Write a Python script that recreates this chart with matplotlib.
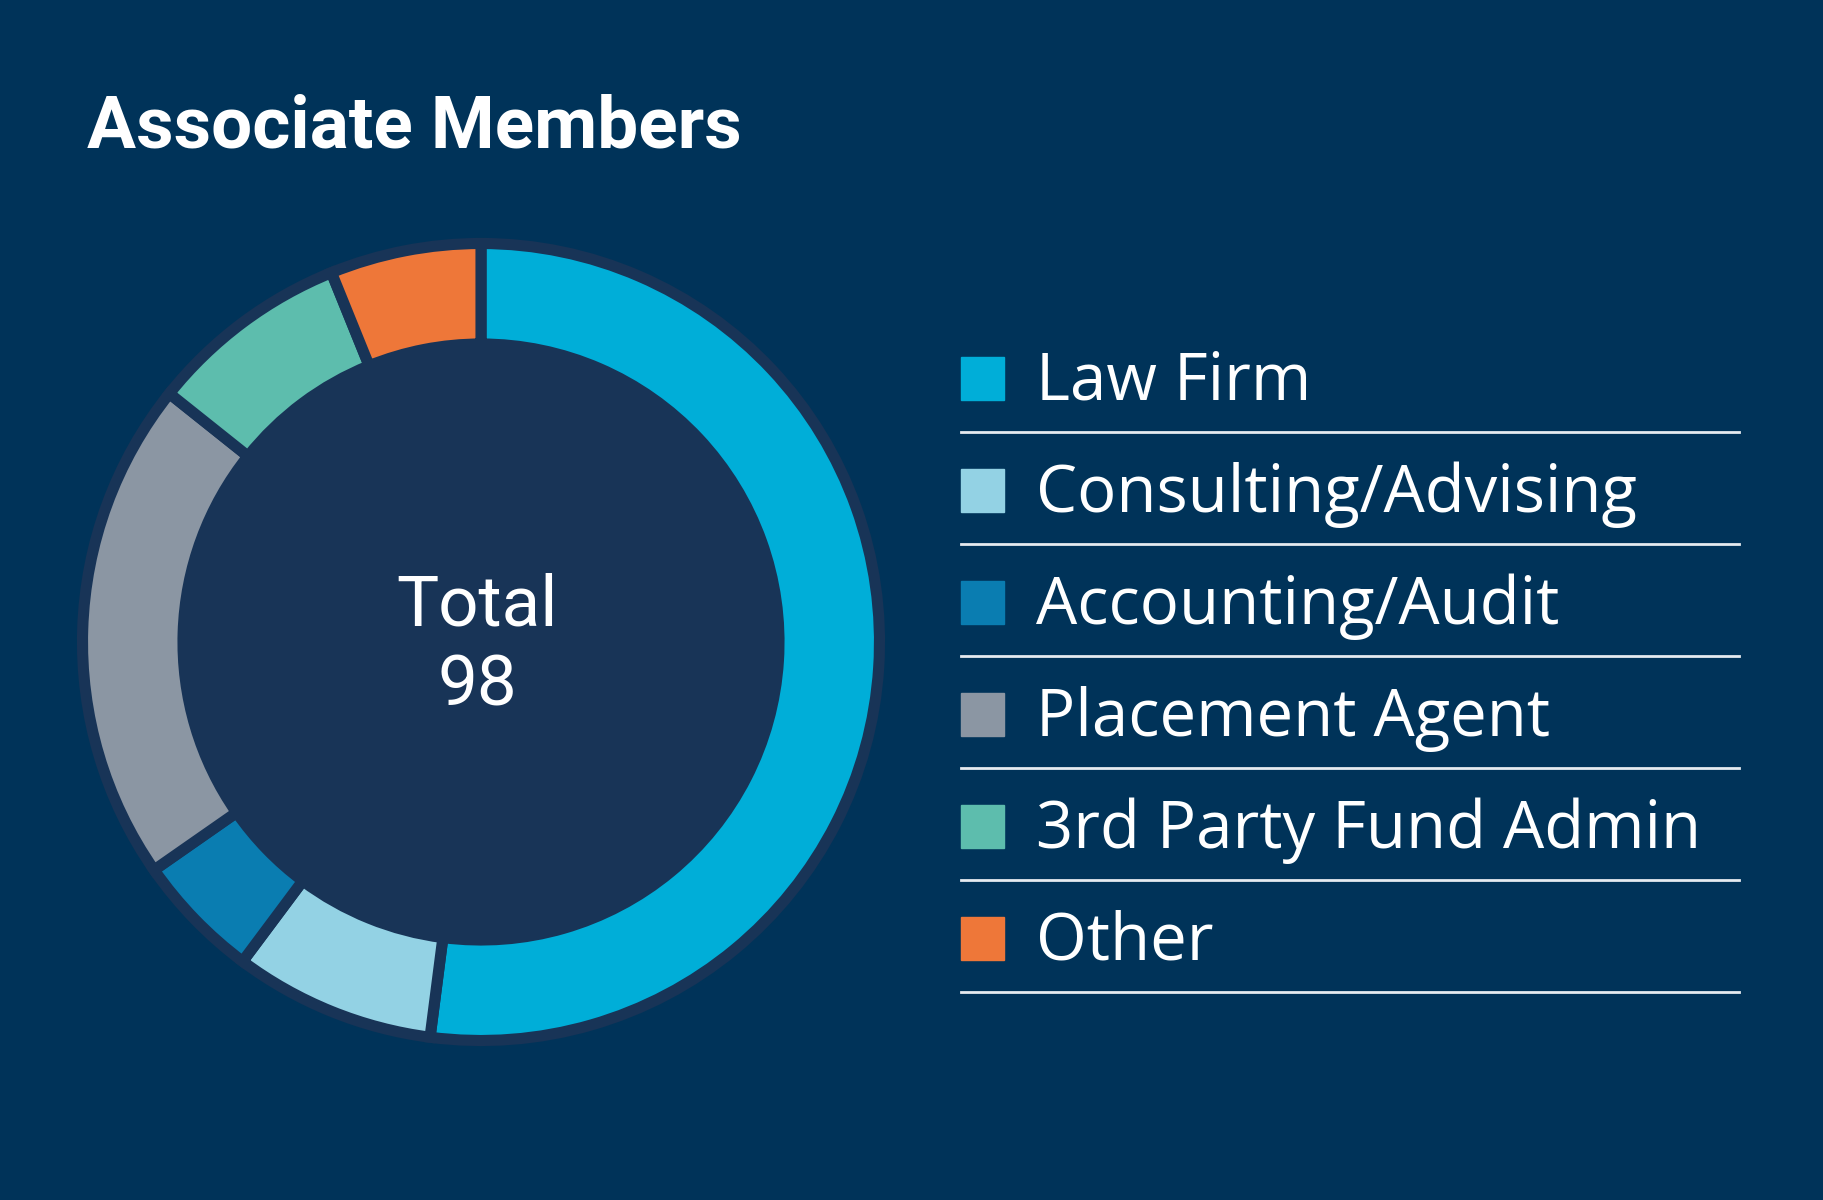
import matplotlib.pyplot as plt
from matplotlib.patches import Circle, Rectangle

categories = ["Law Firm", "Consulting/Advising", "Accounting/Audit",
              "Placement Agent", "3rd Party Fund Admin", "Other"]
counts = [51, 8, 5, 20, 8, 6]
colors = ["#00AED8", "#93D2E4", "#0A7DB1", "#8B96A3", "#5DBDAD", "#EE7739"]

bg = "#003359"
inner = "#183457"

fig = plt.figure(figsize=(18.24, 12), dpi=100)
fig.patch.set_facecolor(bg)
ax = fig.add_axes([0, 0, 1, 1])
ax.set_facecolor(bg)

cx, cy = 481, 558
ax.add_patch(Circle((cx, cy), 401, color=inner, zorder=1))
wedges, _ = ax.pie(counts, colors=colors, startangle=90, counterclock=False,
                   radius=398.5, center=(cx, cy), frame=True,
                   wedgeprops=dict(width=100.5, edgecolor=inner, linewidth=8))
for w in wedges:
    w.set_zorder(2)
ax.set_xlim(0, 1824)
ax.set_ylim(0, 1200)
ax.set_aspect("equal")
ax.axis("off")

ax.text(cx - 4, 1200 - 626, "Total", ha="center", va="baseline",
        fontsize=51, color="white", family="Roboto", zorder=3)
ax.text(cx - 4, 1200 - 706, "98", ha="center", va="baseline",
        fontsize=51, color="white", family="Roboto", zorder=3)

ax.text(87, 1200 - 147, "Associate Members", ha="left", va="baseline",
        fontsize=52.5, color="white", family="Roboto", fontweight="bold")

row_h = 112
for i, (name, c) in enumerate(zip(categories, colors)):
    base = 1200 - (400 + i * row_h)
    ax.add_patch(Rectangle((961, base), 43, 43, color=c))
    ax.text(1036, base, name, ha="left", va="baseline", fontsize=47,
            color="white", family="Open Sans")
    ly = 1200 - (431.5 + i * row_h)
    ax.plot([961, 1739], [ly, ly], color="#E6EBF0", lw=2)

fig.savefig("out.png", dpi=100, facecolor=bg)
